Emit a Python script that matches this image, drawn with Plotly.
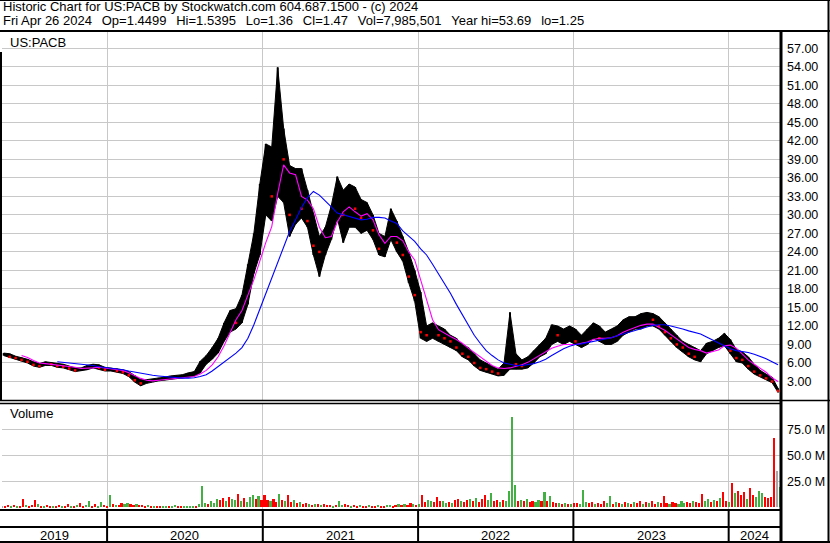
"""Historic price chart for US:PACB in the Stockwatch layout."""

import pandas as pd
import plotly.graph_objects as go

# ---- data ---------------------------------------------------------------
# two-week price bars (high / low / close), last one is Fri Apr 26 2024
price_dates = pd.date_range("2019-05-03", periods=131, freq="14D")
price_high = [
    7.6, 7.5, 7.1, 6.9, 6.6, 6.2, 5.9, 6.2, 6.1, 5.9,
    5.8, 5.5, 5.2, 5.2, 5.6, 5.8, 5.7, 5.3, 5.2, 5.1,
    4.9, 4.6, 4.0, 3.3, 3.3, 3.4, 3.6, 3.7, 3.9, 4.0,
    4.1, 4.4, 4.6, 6.3, 7.2, 8.5, 10.0, 12.5, 14.5, 14.8,
    17.0, 22.0, 27.0, 35.0, 41.5, 41.0, 53.9, 44.0, 38.0, 37.5,
    37.5, 34.0, 30.0, 26.5, 28.0, 31.5, 36.2, 34.0, 35.0, 34.5,
    32.5, 32.0, 30.0, 27.0, 26.5, 31.0, 29.0, 26.5, 24.0, 21.0,
    17.5, 12.0, 12.5, 12.0, 11.5, 10.5, 10.0, 9.0, 8.5, 7.5,
    6.5, 6.0, 5.5, 5.0, 6.0, 14.2, 7.5, 6.5, 7.0, 8.0,
    9.0, 10.0, 12.2, 12.0, 11.5, 12.0, 11.5, 10.5, 11.5, 12.5,
    12.0, 11.0, 11.5, 12.0, 13.0, 13.5, 13.5, 14.0, 14.2, 14.0,
    13.5, 12.5, 11.5, 10.5, 9.5, 9.0, 8.5, 8.0, 9.2, 9.5,
    10.0, 10.8, 9.8, 8.2, 7.8, 7.0, 5.8, 4.8, 4.2, 3.7,
    1.9,
]
price_low = [
    7.2, 6.8, 6.6, 6.3, 6.0, 5.5, 5.3, 5.6, 5.6, 5.3,
    5.2, 4.9, 4.6, 4.7, 4.9, 5.2, 5.0, 4.7, 4.7, 4.5,
    4.3, 3.8, 2.9, 2.3, 2.7, 2.9, 3.1, 3.2, 3.4, 3.5,
    3.6, 3.7, 3.9, 4.4, 5.8, 6.6, 7.6, 9.5, 11.0, 11.5,
    12.5, 15.5, 20.5, 23.5, 30.0, 29.0, 33.0, 32.0, 26.5, 28.5,
    29.5, 28.0, 23.5, 20.0, 23.5, 26.0, 29.5, 25.5, 28.0, 28.0,
    27.0, 27.5, 26.0, 23.5, 23.2, 26.0, 24.0, 22.5, 19.0, 16.0,
    10.0, 9.5, 10.0, 9.5, 9.0, 8.5, 8.0, 7.0, 6.5, 5.5,
    4.8, 4.5, 4.2, 3.9, 4.0, 5.0, 5.0, 5.0, 5.2, 6.0,
    7.0, 7.5, 9.0, 9.5, 9.0, 9.5, 9.0, 8.5, 9.0, 10.0,
    9.5, 9.0, 9.0, 9.5, 10.5, 11.0, 11.5, 11.5, 12.0, 12.0,
    11.5, 10.5, 9.5, 8.5, 7.8, 7.0, 6.5, 6.2, 7.5, 8.0,
    8.5, 8.8, 7.5, 6.2, 6.0, 5.0, 4.2, 3.8, 3.3, 2.8,
    1.25,
]
price_close = [
    7.4, 7.0, 6.8, 6.5, 6.2, 5.7, 5.5, 6.0, 5.8, 5.5,
    5.4, 5.1, 4.8, 4.9, 5.3, 5.5, 5.2, 4.9, 4.9, 4.7,
    4.5, 4.0, 3.2, 2.7, 3.0, 3.2, 3.4, 3.5, 3.7, 3.7,
    3.9, 4.1, 4.3, 6.0, 6.8, 7.8, 9.5, 11.5, 13.5, 12.5,
    16.0, 21.0, 25.0, 32.0, 36.0, 33.0, 45.0, 39.0, 30.0, 33.0,
    31.0, 29.0, 25.0, 24.0, 26.5, 30.0, 33.0, 30.0, 32.0, 31.0,
    29.5, 30.0, 27.5, 24.5, 25.5, 28.0, 25.5, 23.5, 20.0, 17.0,
    11.0, 10.5, 11.0, 10.5, 10.0, 9.5, 8.5, 7.5, 7.0, 6.0,
    5.2, 5.0, 4.6, 4.3, 5.5, 7.5, 5.8, 5.5, 6.5, 7.5,
    8.0, 9.5, 11.0, 10.5, 10.5, 11.0, 9.5, 9.5, 10.5, 11.5,
    10.0, 10.0, 10.5, 11.0, 12.0, 12.5, 12.5, 13.0, 13.5, 13.0,
    12.0, 11.0, 10.0, 9.0, 8.5, 7.5, 7.0, 7.5, 8.5, 9.0,
    9.5, 9.5, 8.0, 6.8, 6.5, 5.5, 4.6, 4.0, 3.5, 3.0,
    1.47,
]
# moving averages (magenta short, blue long)
ma_short = [
    None, None, None, 7.2, 6.9, 6.4, 6.0, 5.9, 5.8, 5.7,
    5.6, 5.5, 5.3, 5.1, 5.1, 5.2, 5.3, 5.2, 5.0, 4.9,
    4.8, 4.4, 3.9, 3.5, 3.2, 3.1, 3.2, 3.3, 3.4, 3.5,
    3.5, 3.6, 3.8, 4.2, 4.8, 5.7, 7.0, 8.8, 11.0, 13.0,
    14.5, 17.0, 19.5, 22.5, 25.5, 28.1, 33.5, 38.1, 36.8, 36.5,
    33.0, 32.4, 31.0, 28.0, 26.3, 26.5, 28.8, 30.5, 31.3, 30.5,
    29.8, 30.2, 29.2, 26.8, 25.4, 26.5, 26.5, 25.8, 24.0, 22.7,
    19.5, 16.0, 13.0, 11.4, 10.8, 10.3, 9.8, 9.2, 8.4, 7.7,
    6.9, 6.2, 5.6, 5.2, 5.1, 5.2, 5.4, 5.7, 6.1, 6.7,
    7.3, 7.9, 8.4, 8.7, 9.0, 9.0, 9.0, 9.2, 9.4, 9.8,
    10.0, 10.0, 10.1, 10.4, 11.0, 11.4, 11.8, 12.1, 12.3, 12.3,
    11.8, 11.3, 10.6, 9.9, 9.2, 8.5, 8.2, 8.0, 7.6, 7.8,
    8.1, 8.8, 8.9, 8.4, 7.4, 6.5, 5.8, 5.1, 4.5, 3.6,
    3.0,
]
ma_long = [
    None, None, None, None, None, None, None, None, None, 6.2,
    6.1, 6.0, 5.9, 5.9, 5.8, 5.6, 5.4, 5.3, 5.1, 5.0,
    4.9, 4.7, 4.5, 4.3, 4.2, 4.0, 3.9, 3.8, 3.7, 3.6,
    3.55, 3.55, 3.6, 3.8, 4.1, 4.7, 5.4, 6.1, 6.8, 7.6,
    8.5, 10.0, 12.2, 14.7, 17.3, 19.8, 22.3, 25.0, 27.3, 29.2,
    31.2, 32.8, 33.8, 33.2, 32.3, 31.3, 30.3, 30.0, 29.8, 29.5,
    29.2, 29.3, 29.6, 29.6, 29.5, 29.0, 28.6, 27.4, 26.5, 25.7,
    24.5, 23.5, 22.0, 20.5, 19.0, 17.3, 15.5, 13.8, 12.0, 10.5,
    9.2, 8.0, 7.2, 6.5, 6.0, 5.8, 5.6, 5.6, 5.7, 5.9,
    6.2, 6.6, 7.2, 7.8, 8.3, 8.7, 9.0, 9.1, 9.3, 9.4,
    9.6, 9.8, 10.1, 10.4, 10.7, 11.0, 11.3, 11.6, 11.9, 12.1,
    12.2, 12.2, 12.0, 11.8, 11.5, 11.2, 11.0, 10.7, 10.2, 9.7,
    9.2, 8.7, 8.3, 8.0, 7.9, 7.7, 7.4, 7.1, 6.7, 6.2,
    5.7,
]

# weekly volume in millions; direction r = down, g = up, n = unchanged
volume_dates = pd.date_range("2019-04-30", periods=262, freq="7D")
volume_m = [
    # 2019
    1.0, 1.5, 2.0, 1.2, 2.5, 1.8, 1.5, 8.3, 2.2, 1.6,
    2.0, 7.0, 2.8, 1.5, 1.2, 2.0, 1.4, 1.0, 1.8, 2.5,
    1.2, 1.6, 3.5, 1.8, 1.4, 2.2, 3.8, 1.5, 2.0, 6.4,
    1.6, 2.8, 1.4, 5.0, 2.0, 1.5,
    # 2020
    12.0, 3.0, 2.5, 2.0, 4.5, 3.5, 4.0, 3.0, 2.5, 3.0,
    2.0, 2.5, 1.5, 2.0, 1.2, 1.0, 1.5, 1.0, 0.8, 1.5,
    1.0, 1.2, 2.0, 1.0, 0.6, 0.8, 1.0, 1.2, 1.0, 1.5,
    3.0, 20.7, 4.0, 3.5, 6.0, 4.5, 8.0, 7.0, 9.0, 6.0,
    10.0, 8.5, 7.0, 12.5, 6.0, 9.0, 5.5, 10.0, 12.0, 8.0,
    11.0, 7.0,
    # 2021
    12.0, 7.0, 6.5, 8.0, 5.5, 12.5, 7.0, 6.0, 11.5, 5.5,
    7.0, 4.0, 5.0, 3.5, 4.0, 3.0, 2.5, 3.5, 2.8, 2.0,
    3.0, 2.5, 2.0, 1.5, 2.2, 6.0, 2.0, 3.0, 2.0, 1.8,
    2.5, 1.5, 2.0, 1.8, 1.5, 2.0, 1.2, 1.5, 2.5, 1.8,
    1.5, 2.0, 2.5, 1.5, 2.2, 3.0, 2.0, 3.5, 2.5, 4.0,
    3.0, 2.5,
    # 2022
    3.0, 11.8, 5.0, 7.0, 6.5, 5.0, 10.5, 6.0, 6.0, 4.5,
    5.0, 4.0, 7.0, 8.0, 6.5, 5.5, 7.5, 8.0, 6.0, 9.0,
    5.5, 8.0, 11.8, 7.0, 13.7, 6.0, 7.5, 5.0, 7.0, 6.0,
    16.0, 87.0, 22.0, 6.5, 7.0, 6.0, 8.0, 5.5, 6.0, 5.0,
    7.0, 6.0, 15.0, 6.0, 11.0, 5.0, 4.0, 4.5, 3.5, 4.0,
    3.5, 3.0, 4.0,
    # 2023
    4.5, 3.0, 16.5, 5.0, 4.0, 5.0, 3.0, 4.0, 3.5, 6.0,
    4.0, 11.0, 3.0, 5.0, 4.0, 3.5, 5.0, 4.5, 3.0, 5.5,
    4.0, 6.0, 3.5, 5.0, 4.0, 6.5, 3.5, 5.0, 4.0, 11.0,
    4.5, 3.0, 5.0, 4.0, 3.5, 6.0, 4.5, 5.5, 4.0, 6.5,
    5.0, 4.0, 12.5, 6.0, 8.0, 5.0, 7.0, 6.0, 9.0, 15.0,
    6.0, 5.0,
    # 2024
    23.5, 14.0, 16.0, 12.0, 14.5, 8.0, 19.0, 12.0, 10.0, 16.0,
    14.0, 10.0, 9.0, 10.0, 66.7, 35.0, 20.0,
]
volume_dir = (
    "nrrgrgrrgr" "rrgrgrrgrr" "grrgrgrrgg" "rrggrr"
    "grgrrggrrg" "rrrgrgrrgg" "rggrrggggr" "gggrgggrrg" "rggrgrgggr" "gr"
    "rrgrrgrgrr" "grgrrgrgrg" "rrrgrggrrg" "rrgrrgrrgr" "rggrrgrgrr" "gr"
    "grrggrrrgg" "rgrrgrrgrg" "rrrggrrgrg" "gggrgrgrrg" "grgrgrrgrg" "rgr"
    "rgggrrgrrr" "ggrgrgrgrg" "rrgrgrrgrr" "rgrrgggrrg" "rrrggrgrgr" "rg"
    "rgrrrgrrgggrrrrng"
)

year_labels = ["2019", "2020", "2021", "2022", "2023", "2024"]
year_starts = ["2020-01-01", "2021-01-01", "2022-01-01", "2023-01-01", "2024-01-01"]
price_ticks = [3, 6, 9, 12, 15, 18, 21, 24, 27, 30, 33, 36, 39, 42, 45, 48, 51, 54, 57]
volume_ticks = [25, 50, 75]

GAP = "\u00a0 \u2009"
header_1 = "Historic Chart for US:PACB by Stockwatch.com 604.687.1500 - (c) 2024"
header_2 = GAP.join(["Fri Apr 26 2024", "Op=1.4499", "Hi=1.5395", "Lo=1.36", "Cl=1.47",
                     "Vol=7,985,501", "Year hi=53.69", "lo=1.25"])

# ---- frame (pixels) -----------------------------------------------------
FIG_W, FIG_H = 830, 543
PLOT_L, PLOT_R, PLOT_T, PLOT_B = 2, 781, 31, 510
PRICE_BOTTOM, VOL_TOP = 400, 403
X_START, X_END = "2019-04-29", "2024-05-03"
FONT = "Liberation Sans, Arial, sans-serif"
GRID = "#C8C8C8"
DIR_COLORS = {"r": "#FF0000", "g": "#43B043", "n": "#A8A8A8"}


def px_x(px):
    return (px - PLOT_L) / (PLOT_R - PLOT_L)


def px_y(py):
    return (PLOT_B - py) / (PLOT_B - PLOT_T)


def hline(py, x0, x1, width=2):
    return dict(type="line", xref="paper", yref="paper", x0=px_x(x0), x1=px_x(x1),
                y0=px_y(py), y1=px_y(py), line=dict(color="black", width=width))


def vline(px, y0, y1, width=2):
    return dict(type="line", xref="paper", yref="paper", x0=px_x(px), x1=px_x(px),
                y0=px_y(y0), y1=px_y(y1), line=dict(color="black", width=width))


fig = go.Figure()

# price range as a filled band plus high-low strokes
band_x = list(price_dates) + list(price_dates[::-1])
band_y = price_high + price_low[::-1]
fig.add_trace(go.Scatter(x=band_x, y=band_y, mode="lines", fill="toself",
                         fillcolor="black", line=dict(color="black", width=1),
                         hoverinfo="skip", showlegend=False))
stroke_x, stroke_y = [], []
for d, hi, lo in zip(price_dates, price_high, price_low):
    stroke_x += [d, d, None]
    stroke_y += [lo, hi, None]
fig.add_trace(go.Scatter(x=stroke_x, y=stroke_y, mode="lines",
                         line=dict(color="black", width=2), showlegend=False))

# red close ticks on down bars
down_x = [d for i, d in enumerate(price_dates) if i > 0 and price_close[i] < price_close[i - 1]]
down_y = [c for i, c in enumerate(price_close) if i > 0 and c < price_close[i - 1]]
fig.add_trace(go.Scatter(x=down_x, y=down_y, mode="markers",
                         marker=dict(symbol="square", size=2.5, color="#FF0000",
                                     line=dict(width=0)),
                         showlegend=False))

fig.add_trace(go.Scatter(x=price_dates, y=ma_short, mode="lines",
                         line=dict(color="#FF00FF", width=1.1), showlegend=False))
fig.add_trace(go.Scatter(x=price_dates, y=ma_long, mode="lines",
                         line=dict(color="#0000FF", width=1.1), showlegend=False))

fig.add_trace(go.Bar(x=volume_dates, y=volume_m, xaxis="x2", yaxis="y2",
                     marker=dict(color=[DIR_COLORS[c] for c in volume_dir], line=dict(width=0)),
                     width=5 * 86400000, showlegend=False))

axis_x = dict(type="date", range=[X_START, X_END], tickvals=year_starts,
              showticklabels=False, ticks="", showgrid=True, gridcolor=GRID,
              gridwidth=1, zeroline=False, showline=False)
axis_y = dict(side="right", ticks="", showgrid=True, gridcolor=GRID, gridwidth=1,
              zeroline=False, showline=False, ticklabelstandoff=5,
              tickfont=dict(family=FONT, size=12.5, color="black"))

fig.update_layout(
    width=FIG_W,
    height=FIG_H,
    paper_bgcolor="white",
    plot_bgcolor="white",
    margin=dict(l=PLOT_L, r=FIG_W - PLOT_R, t=PLOT_T, b=FIG_H - PLOT_B, autoexpand=False),
    bargap=0,
    xaxis=dict(axis_x, domain=[0, 1], anchor="y"),
    xaxis2=dict(axis_x, domain=[0, 1], anchor="y2", matches="x"),
    yaxis=dict(axis_y, domain=[px_y(PRICE_BOTTOM), 1], range=[0, 59.8],
               tickvals=price_ticks, ticktext=[f"{v:.2f}" for v in price_ticks]),
    yaxis2=dict(axis_y, domain=[0, px_y(VOL_TOP)], range=[-2.5, 100.5],
                tickvals=volume_ticks, ticktext=[f"{v:.1f} M" for v in volume_ticks]),
)

shapes = [
    hline(0.5, 0, FIG_W, 1),
    hline(31, 0, FIG_W, 2),
    hline(400.5, 0, FIG_W, 1.5),
    hline(403.5, 0, PLOT_R, 1.5),
    hline(510, 0, PLOT_R, 2),
    hline(527, 0, PLOT_R, 2),
    hline(542, 0, FIG_W, 2),
    vline(828.5, 0, FIG_H, 2),
    vline(1, 52, 400, 2),
    vline(PLOT_R, 31, FIG_H, 3),
]
for ys in year_starts:
    shapes.append(dict(type="line", xref="x", yref="paper", x0=ys, x1=ys,
                       y0=px_y(FIG_H), y1=px_y(PLOT_B), line=dict(color="black", width=2)))
fig.update_layout(shapes=shapes)

notes = [
    (header_1, 2, 6.5, 13),
    (header_2, 2, 20.5, 13),
    ("US:PACB", 9, 42, 13),
    ("Volume", 9, 413, 13),
]
for text, x, y, size in notes:
    fig.add_annotation(text=text, xref="paper", yref="paper", x=px_x(x), y=px_y(y),
                       xanchor="left", yanchor="middle", showarrow=False, borderpad=0,
                       font=dict(family=FONT, size=size, color="black"))

# year labels centred in each year column
edges = [pd.Timestamp(X_START)] + [pd.Timestamp(d) for d in year_starts] + [pd.Timestamp(X_END)]
for label, a, b in zip(year_labels, edges[:-1], edges[1:]):
    fig.add_annotation(text=label, xref="x", yref="paper", x=a + (b - a) / 2, y=px_y(535),
                       xanchor="center", yanchor="middle", showarrow=False,
                       font=dict(family=FONT, size=13, color="black"))

# the page body has a default margin; drop it so the figure sits at (0, 0)
fig.write_html("out.html", config={"displayModeBar": False},
               post_script="document.body.style.margin='0px';")
